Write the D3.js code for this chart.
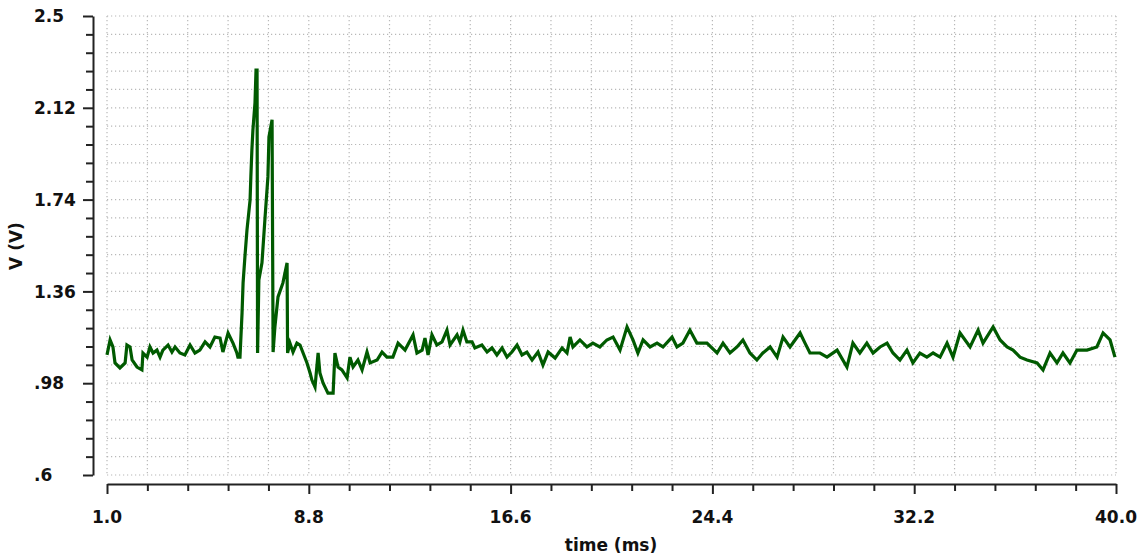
<!DOCTYPE html>
<html>
<head>
<meta charset="utf-8">
<script src="https://cdn.jsdelivr.net/npm/d3@7"></script>
<style>
  body { margin: 0; background: #fff; }
  text { font-family: "DejaVu Sans", sans-serif; font-weight: bold; fill: #111; }
</style>
</head>
<body>
<svg id="mainsvg" width="1146" height="556"></svg>
<script>
// tick labels
const xTicks = [1.0, 8.8, 16.6, 24.4, 32.2, 40.0];
const xTickLabels = ['1.0', '8.8', '16.6', '24.4', '32.2', '40.0'];
const yTicks = [0.6, 0.98, 1.36, 1.74, 2.12, 2.5];
const yTickLabels = ['.6', '.98', '1.36', '1.74', '2.12', '2.5'];

// trace: time (ms)
const times = [
  // before the burst
  1.00, 1.12, 1.23, 1.31, 1.50, 1.70, 1.77, 1.89, 1.97, 2.16,
  2.35, 2.39, 2.55, 2.66, 2.78, 2.93, 3.05, 3.16, 3.36, 3.51,
  3.63, 3.82, 4.01, 4.21, 4.40, 4.59, 4.79, 4.98, 5.17, 5.37,
  5.48, 5.68, 5.87, 6.02, 6.06,
  // burst
  6.14, 6.22, 6.26, 6.33, 6.41, 6.53, 6.56, 6.60, 6.64, 6.72,
  6.76, 6.80, 6.82, 6.87, 6.99, 7.11, 7.22, 7.26, 7.38, 7.42,
  7.49, 7.61, 7.80, 7.96, 7.98,
  // undershoot and recovery
  8.07, 8.19, 8.34, 8.46, 8.58, 8.73, 8.85, 8.92, 9.04, 9.16,
  9.23, 9.35, 9.54, 9.74, 9.81, 9.93, 10.08, 10.28, 10.39, 10.51,
  10.70, 10.86, 11.05, 11.17, 11.44, 11.63, 11.82, 12.05, 12.25, 12.52,
  12.83, 12.98, 13.18,
  13.29, 13.41, 13.56, 13.75, 13.95, 14.14, 14.26, 14.53, 14.64, 14.76,
  14.91, 15.11, 15.22, 15.49, 15.69, 15.88, 16.07, 16.27, 16.46, 16.65,
  16.85, 17.04, 17.23, 17.43, 17.66, 17.85, 18.05, 18.32, 18.59, 18.78,
  // baseline
  18.90, 19.01, 19.28, 19.55, 19.78, 20.05, 20.32, 20.56, 20.83, 21.10,
  21.33, 21.52, 21.72, 21.99, 22.26, 22.49, 22.84, 23.03, 23.26, 23.53,
  23.80, 24.19, 24.58, 24.81, 25.08, 25.35, 25.58, 25.85, 26.12, 26.35,
  26.63, 26.90, 27.13, 27.40, 27.79, 27.98, 28.17, 28.56, 28.83, 29.22,
  29.60, 29.83, 30.10, 30.37, 30.61, 30.88, 31.15, 31.38, 31.65, 31.92,
  32.15, 32.42, 32.69, 32.93, 33.20, 33.47, 33.70, 33.97, 34.36, 34.67,
  34.86, 35.25, 35.52, 35.79, 36.02, 36.29, 36.56, 36.95, 37.18, 37.45,
  37.72, 37.95, 38.22, 38.49, 38.88, 39.26, 39.50, 39.77, 39.96
];
// trace: voltage (V)
const volts = [
  1.097, 1.159, 1.130, 1.064, 1.043, 1.064, 1.138, 1.130, 1.076, 1.047,
  1.035, 1.105, 1.088, 1.130, 1.105, 1.117, 1.088, 1.117, 1.138, 1.109,
  1.130, 1.105, 1.097, 1.138, 1.105, 1.117, 1.151, 1.130, 1.171, 1.167,
  1.109, 1.188, 1.146, 1.105, 1.088,
  1.088, 1.271, 1.395, 1.502, 1.614, 1.738, 1.834, 1.945, 2.028, 2.140,
  2.276, 2.276, 1.105, 1.407, 1.478, 1.668, 1.834, 1.999, 2.070, 1.109,
  1.213, 1.337, 1.395, 1.478, 1.105,
  1.146, 1.109, 1.146, 1.138, 1.105, 1.064, 1.022, 0.993, 0.964, 1.105,
  1.022, 0.981, 0.939, 0.939, 1.105, 1.047, 1.035, 1.002, 1.088, 1.047,
  1.076, 1.035, 1.109, 1.064, 1.076, 1.109, 1.088, 1.088, 1.146, 1.117,
  1.180, 1.105, 1.117,
  1.167, 1.097, 1.180, 1.138, 1.151, 1.200, 1.138, 1.180, 1.151, 1.200,
  1.151, 1.151, 1.126, 1.138, 1.109, 1.126, 1.097, 1.126, 1.088, 1.109,
  1.138, 1.097, 1.109, 1.076, 1.109, 1.055, 1.109, 1.084, 1.126, 1.105,
  1.171, 1.130, 1.159, 1.130, 1.146, 1.130, 1.159, 1.171, 1.117, 1.213,
  1.159, 1.105, 1.159, 1.130, 1.146, 1.130, 1.171, 1.130, 1.146, 1.200,
  1.146, 1.146, 1.105, 1.146, 1.105, 1.130, 1.159, 1.105, 1.076, 1.105,
  1.130, 1.088, 1.171, 1.130, 1.188, 1.146, 1.105, 1.105, 1.088, 1.117,
  1.047, 1.146, 1.105, 1.146, 1.105, 1.130, 1.146, 1.105, 1.076, 1.117,
  1.064, 1.105, 1.088, 1.105, 1.088, 1.146, 1.088, 1.188, 1.130, 1.200,
  1.146, 1.213, 1.159, 1.130, 1.117, 1.088, 1.076, 1.064, 1.035, 1.105,
  1.064, 1.105, 1.064, 1.117, 1.117, 1.130, 1.188, 1.159, 1.088
];

const svg = d3.select('#mainsvg');
const plotLeft = 107, plotRight = 1116, plotTop = 16, plotBottom = 475;

const xScale = d3.scaleLinear().domain([1, 40]).range([plotLeft, plotRight]);
const yScale = d3.scaleLinear().domain([0.6, 2.5]).range([plotBottom, plotTop]);

// 5 minor divisions per major step
const xMinor = d3.range(0, 26).map(i => 1 + i * 1.56);
const yMinor = d3.range(0, 26).map(i => 0.6 + i * 0.076);

// dotted grid
const grid = svg.append('g');
grid.selectAll('line.gx').data(xMinor).join('line')
    .attr('class', 'gx')
    .attr('x1', d => xScale(d)).attr('x2', d => xScale(d))
    .attr('y1', plotTop).attr('y2', plotBottom);
grid.selectAll('line.gy').data(yMinor).join('line')
    .attr('class', 'gy')
    .attr('x1', plotLeft).attr('x2', plotRight)
    .attr('y1', d => yScale(d)).attr('y2', d => yScale(d));
grid.selectAll('line')
    .attr('stroke', '#b8b8b8')
    .attr('stroke-width', 1.2)
    .attr('stroke-dasharray', '1.2,2.8');

// x axis
const xAxisG = svg.append('g').attr('transform', `translate(0, 484)`);
xAxisG.call(d3.axisBottom(xScale).tickValues(xMinor).tickSize(7).tickSizeOuter(0).tickFormat(''));
xAxisG.selectAll('.tick').filter(d => xTicks.some(t => Math.abs(t - d) < 1e-6))
    .select('line').attr('y2', 10);
xAxisG.selectAll('path, line').attr('stroke', '#222').attr('stroke-width', 2);

svg.append('g').selectAll('text').data(xTicks).join('text')
    .attr('x', d => xScale(d))
    .attr('y', 523)
    .attr('text-anchor', 'middle')
    .attr('font-size', 17)
    .text((d, i) => xTickLabels[i]);

// y axis
const yAxisG = svg.append('g').attr('transform', `translate(93, 0)`);
yAxisG.call(d3.axisLeft(yScale).tickValues(yMinor).tickSize(7).tickSizeOuter(0).tickFormat(''));
yAxisG.selectAll('.tick').filter(d => yTicks.some(t => Math.abs(t - d) < 1e-6))
    .select('line').attr('x2', -10);
yAxisG.selectAll('path, line').attr('stroke', '#222').attr('stroke-width', 2);

svg.append('g').selectAll('text').data(yTicks).join('text')
    .attr('x', 34)
    .attr('y', d => yScale(d))
    .attr('dy', '0.36em')
    .attr('font-size', 17)
    .text((d, i) => yTickLabels[i]);

// axis titles
svg.append('text').text('time (ms)')
    .attr('x', 611).attr('y', 551)
    .attr('text-anchor', 'middle')
    .attr('font-size', 17);
svg.append('text').text('V (V)')
    .attr('transform', `translate(22, 246) rotate(-90)`)
    .attr('text-anchor', 'middle')
    .attr('font-size', 17);

// trace
const pts = times.map((t, i) => [t, volts[i]]);
svg.append('path')
    .datum(pts)
    .attr('fill', 'none')
    .attr('stroke', '#005a00')
    .attr('stroke-width', 3.2)
    .attr('stroke-linejoin', 'miter')
    .attr('d', d3.line().x(d => xScale(d[0])).y(d => yScale(d[1])));
</script>
</body>
</html>
